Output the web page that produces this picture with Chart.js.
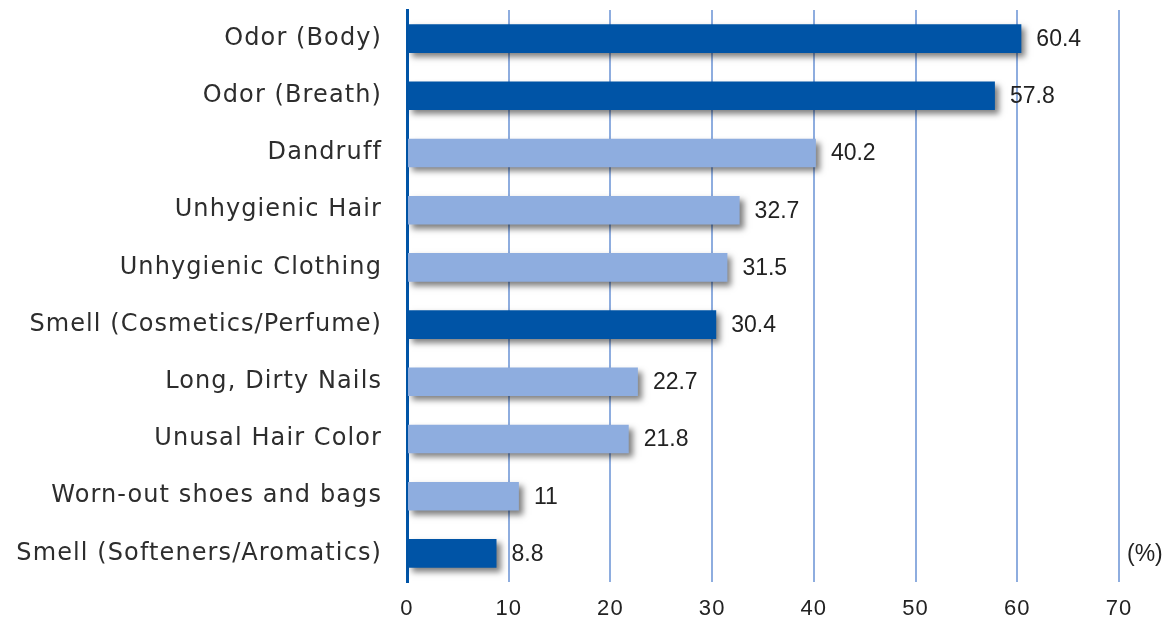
<!DOCTYPE html>
<html>
<head>
<meta charset="utf-8">
<script src="https://cdn.jsdelivr.net/npm/chart.js@4/dist/chart.umd.min.js"></script>
<style>
  html, body { margin: 0; padding: 0; background: #fff; }
  #wrap { width: 1173px; height: 620px; position: relative; }
</style>
</head>
<body>
<div id="wrap"><canvas id="chart" width="1173" height="620"></canvas></div>
<script>
// Survey items and shares (%)
const categories = [
  "Odor (Body)",
  "Odor (Breath)",
  "Dandruff",
  "Unhygienic Hair",
  "Unhygienic Clothing",
  "Smell (Cosmetics/Perfume)",
  "Long, Dirty Nails",
  "Unusal Hair Color",
  "Worn-out shoes and bags",
  "Smell (Softeners/Aromatics)"
];
const values = [60.4, 57.8, 40.2, 32.7, 31.5, 30.4, 22.7, 21.8, 11, 8.8];
// smell-related items are highlighted in the darker blue
const highlighted = [true, true, false, false, false, true, false, false, false, true];
const unitLabel = "(%)";

const DARK = "#0054a6";
const LIGHT = "#8eaddf";
const NUM_FONT = "'Liberation Sans', Arial, sans-serif";

// category labels are set a little wider than the plain font
const labelSpacing = {
  id: "labelSpacing",
  beforeDraw(chart) { chart.ctx.letterSpacing = "1.1px"; },
  beforeDatasetsDraw(chart) { chart.ctx.letterSpacing = "0px"; }
};

// soft drop shadow under the bars
const barShadow = {
  id: "barShadow",
  beforeDatasetDraw(chart) {
    const c = chart.ctx;
    c.save();
    c.shadowColor = "rgba(0,0,0,0.5)";
    c.shadowBlur = 6;
    c.shadowOffsetX = 4;
    c.shadowOffsetY = 4;
  },
  afterDatasetDraw(chart) {
    chart.ctx.restore();
  }
};

// value labels to the right of each bar, plus the unit note
const valueLabels = {
  id: "valueLabels",
  afterDatasetsDraw(chart) {
    const c = chart.ctx;
    const meta = chart.getDatasetMeta(0);
    c.save();
    c.letterSpacing = "0px";
    c.font = "23px " + NUM_FONT;
    c.fillStyle = "#222";
    c.textBaseline = "middle";
    c.textAlign = "left";
    meta.data.forEach((bar, i) => {
      c.fillText(String(values[i]), bar.x + 15, bar.y + 1);
    });
    const last = meta.data[meta.data.length - 1];
    c.fillText(unitLabel, chart.chartArea.right + 8, last.y + 1);
    c.restore();
  }
};

new Chart(document.getElementById("chart").getContext("2d"), {
  type: "bar",
  data: {
    labels: categories,
    datasets: [{
      data: values,
      backgroundColor: highlighted.map(h => (h ? DARK : LIGHT)),
      borderWidth: 0,
      categoryPercentage: 1,
      barPercentage: 0.5
    }]
  },
  options: {
    indexAxis: "y",
    responsive: false,
    animation: false,
    layout: { padding: { top: 10, right: 54, bottom: 0, left: 0 } },
    plugins: {
      legend: { display: false },
      tooltip: { enabled: false }
    },
    scales: {
      x: {
        min: 0,
        max: 70,
        afterFit(scale) {
          scale.height = 38;
          scale.paddingLeft = 0;
          scale.paddingRight = 0;
        },
        ticks: {
          stepSize: 10,
          padding: 14,
          color: "#222",
          font: { family: NUM_FONT, size: 22 }
        },
        grid: {
          drawTicks: false,
          color: ctx => (ctx.tick && ctx.tick.value === 0 ? "rgba(0,0,0,0)" : LIGHT),
          lineWidth: 2
        },
        border: { display: false }
      },
      y: {
        afterFit(scale) {
          scale.width = 407;
          scale.paddingTop = 0;
          scale.paddingBottom = 0;
        },
        grid: { display: false, drawTicks: false },
        border: { display: true, color: DARK, width: 3 },
        ticks: {
          padding: 25,
          autoSkip: false,
          color: "#2d2d2d",
          font: { family: "'DejaVu Sans', Verdana, sans-serif", size: 24 }
        }
      }
    }
  },
  plugins: [labelSpacing, barShadow, valueLabels]
});
</script>
</body>
</html>
